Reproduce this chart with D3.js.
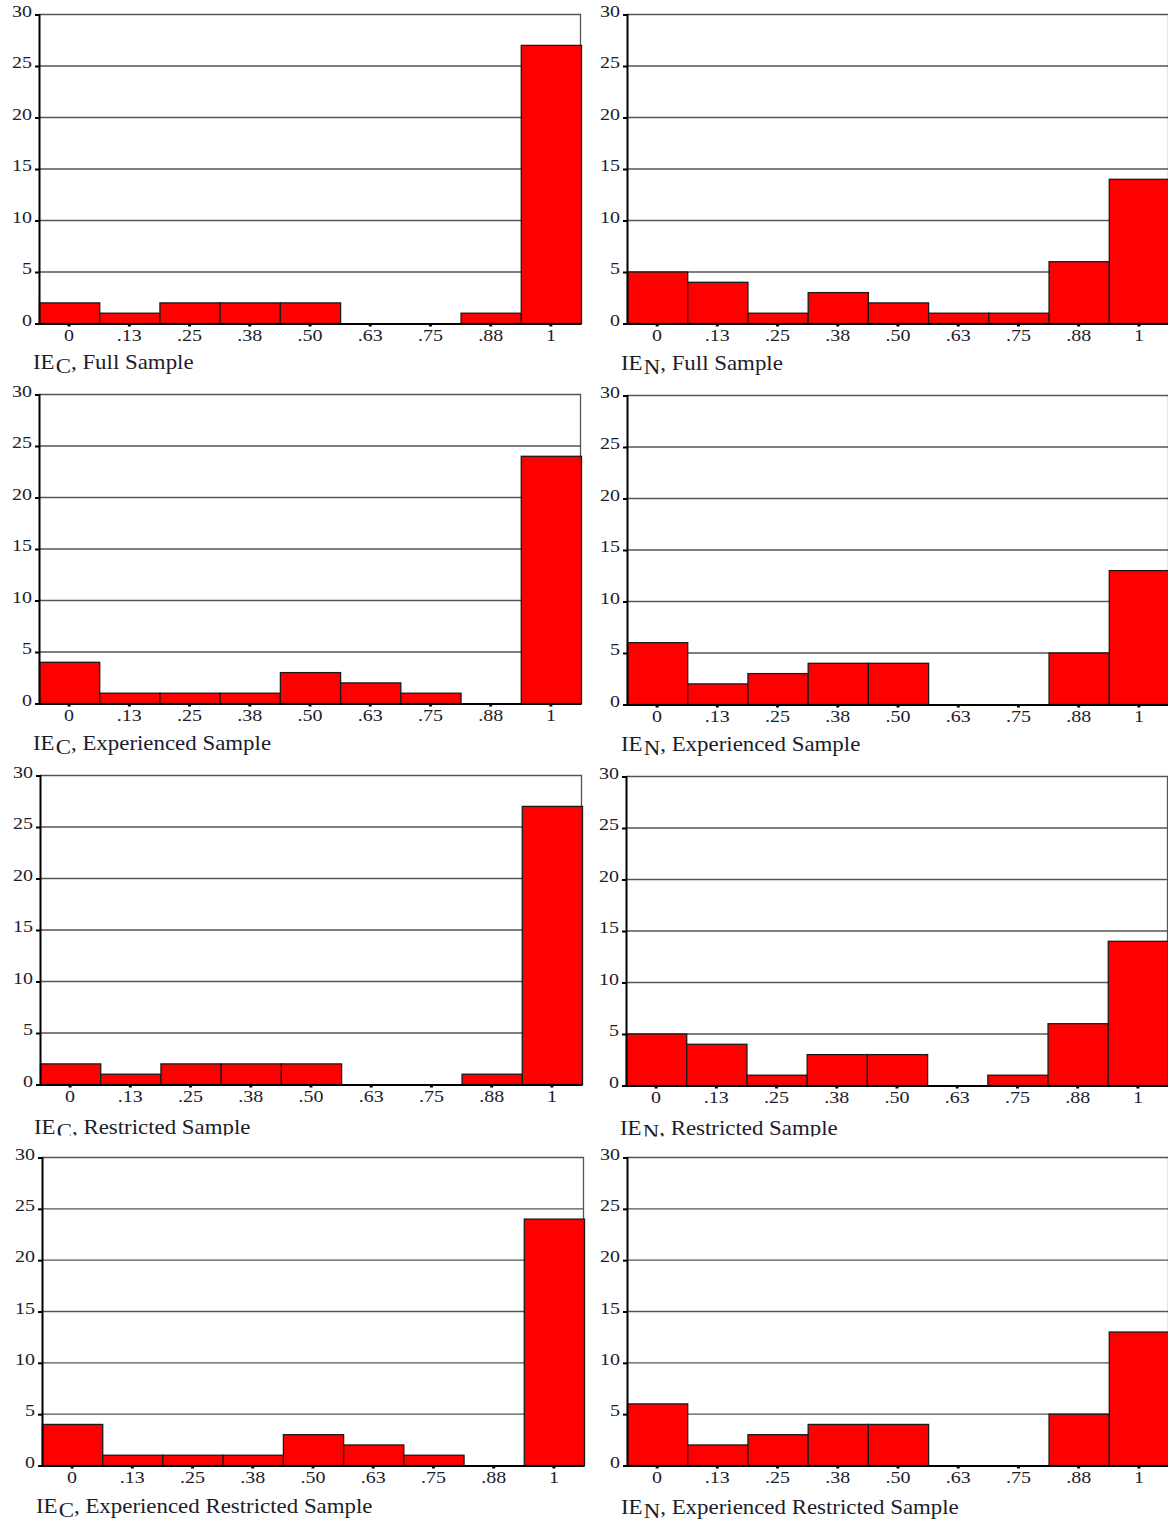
<!DOCTYPE html>
<html>
<head>
<meta charset="utf-8">
<script src="https://cdn.jsdelivr.net/npm/d3@7"></script>
<style>
  html, body { margin: 0; padding: 0; background: #fff; }
  svg { display: block; }
  .tick text { font-family: "Liberation Serif", "Times New Roman", serif; fill: #1c1c2a; }
</style>
</head>
<body>
<svg id="chart" width="1168" height="1524"></svg>
<script>
// Bin labels shared by every histogram
const binLabels = ["0", ".13", ".25", ".38", ".50", ".63", ".75", ".88", "1"];
const yTicks = [0, 5, 10, 15, 20, 25, 30];

// Frequencies per bin for each sample
const iecFull            = [2, 1, 2, 2, 2, 0, 0, 1, 27];
const ienFull            = [5, 4, 1, 3, 2, 1, 1, 6, 14];
const iecExperienced     = [4, 1, 1, 1, 3, 2, 1, 0, 24];
const ienExperienced     = [6, 2, 3, 4, 4, 0, 0, 5, 13];
const iecRestricted      = [2, 1, 2, 2, 2, 0, 0, 1, 27];
const ienRestricted      = [5, 4, 1, 3, 3, 0, 1, 6, 14];
const iecExpRestricted   = [4, 1, 1, 1, 3, 2, 1, 0, 24];
const ienExpRestricted   = [6, 2, 3, 4, 4, 0, 0, 5, 13];

const panels = [
  { sub: "C", label: "Full Sample", values: iecFull,
    box: { left: 39, right: 581, top: 14, bottom: 323 }, titleY: 369 },
  { sub: "N", label: "Full Sample", values: ienFull,
    box: { left: 627, right: 1169, top: 14, bottom: 323 }, titleY: 370 },
  { sub: "C", label: "Experienced Sample", values: iecExperienced,
    box: { left: 39, right: 581, top: 394, bottom: 703 }, titleY: 750 },
  { sub: "N", label: "Experienced Sample", values: ienExperienced,
    box: { left: 627, right: 1169, top: 395, bottom: 704 }, titleY: 751 },
  { sub: "C", label: "Restricted Sample", values: iecRestricted,
    box: { left: 40, right: 582, top: 775, bottom: 1084 }, titleY: 1134, clipY: 1135.5 },
  { sub: "N", label: "Restricted Sample", values: ienRestricted,
    box: { left: 626, right: 1168, top: 776, bottom: 1085 }, titleY: 1135, clipY: 1136.5 },
  { sub: "C", label: "Experienced Restricted Sample", values: iecExpRestricted,
    box: { left: 42, right: 584, top: 1157, bottom: 1465 }, titleY: 1513 },
  { sub: "N", label: "Experienced Restricted Sample", values: ienExpRestricted,
    box: { left: 627, right: 1169, top: 1157, bottom: 1465 }, titleY: 1514 }
];

const tickScale = 1.25;   // tick labels are set wide
const titleScale = 1.09;  // captions are set slightly wide

const svg = d3.select("#chart");
const defs = svg.append("defs");

panels.forEach((p, i) => {
  const b = p.box;
  const x = d3.scaleBand().domain(binLabels).range([b.left, b.right]).padding(0);
  const y = d3.scaleLinear().domain([0, 30]).range([b.bottom, b.top]);
  const g = svg.append("g").attr("class", "panel");

  // horizontal grid
  g.append("g")
    .selectAll("line")
    .data(yTicks.filter(t => t > 0))
    .join("line")
    .attr("x1", b.left).attr("x2", b.right)
    .attr("y1", d => y(d) + 0.5).attr("y2", d => y(d) + 0.5)
    .attr("stroke", "#555").attr("stroke-width", 1.3);

  // right border
  g.append("line")
    .attr("x1", b.right - 0.5).attr("x2", b.right - 0.5)
    .attr("y1", b.top).attr("y2", b.bottom)
    .attr("stroke", "#555").attr("stroke-width", 1.3);

  // bars
  g.append("g")
    .selectAll("rect")
    .data(p.values.map((v, k) => ({ bin: binLabels[k], v })).filter(d => d.v > 0))
    .join("rect")
    .attr("x", d => x(d.bin) + 0.5)
    .attr("y", d => y(d.v) + 0.5)
    .attr("width", x.bandwidth())
    .attr("height", d => y(0) - y(d.v))
    .attr("fill", "#ff0000")
    .attr("stroke", "#1a1a1a")
    .attr("stroke-width", 1.3);

  // y axis
  const yAxis = g.append("g")
    .attr("transform", `translate(${b.left},0.5)`)
    .call(d3.axisLeft(y).tickValues(yTicks).tickSize(4).tickPadding(4).tickFormat(d3.format("d")));
  yAxis.select(".domain").attr("stroke", "#000").attr("stroke-width", 2);
  yAxis.selectAll(".tick line").attr("stroke", "#000").attr("stroke-width", 2);
  yAxis.selectAll(".tick text")
    .attr("font-size", 16).attr("dy", "0.1em")
    .attr("x", -7 / tickScale)
    .attr("transform", `scale(${tickScale},1)`);

  // x axis
  const xAxis = g.append("g")
    .attr("transform", `translate(0,${b.bottom + 0.5})`)
    .call(d3.axisBottom(x).tickSize(3).tickPadding(3).tickSizeOuter(0));
  xAxis.select(".domain").attr("stroke", "#000").attr("stroke-width", 2);
  xAxis.selectAll(".tick line").attr("stroke", "#000").attr("stroke-width", 3);
  xAxis.selectAll(".tick text")
    .attr("font-size", 16)
    .attr("transform", `scale(${tickScale},1)`);

  // panel caption, e.g. "IE_C, Full Sample"
  let titleG = g;
  if (p.clipY) {
    const id = "clip" + i;
    defs.append("clipPath").attr("id", id)
      .append("rect").attr("x", b.left - 20).attr("y", p.titleY - 30)
      .attr("width", 600).attr("height", p.clipY - (p.titleY - 30));
    titleG = g.append("g").attr("clip-path", `url(#${id})`);
  }
  const tx = b.left - 6;
  const t = titleG.append("text")
    .attr("transform", `translate(${tx},${p.titleY}) scale(${titleScale},1)`)
    .attr("font-family", "'Liberation Serif', 'Times New Roman', serif")
    .attr("font-size", 21)
    .attr("fill", "#1c1c2a");
  t.append("tspan").text("IE");
  t.append("tspan").attr("dy", 4).attr("dx", 1).text(p.sub);
  t.append("tspan").attr("dy", -4).text(", " + p.label);
});
</script>
</body>
</html>
